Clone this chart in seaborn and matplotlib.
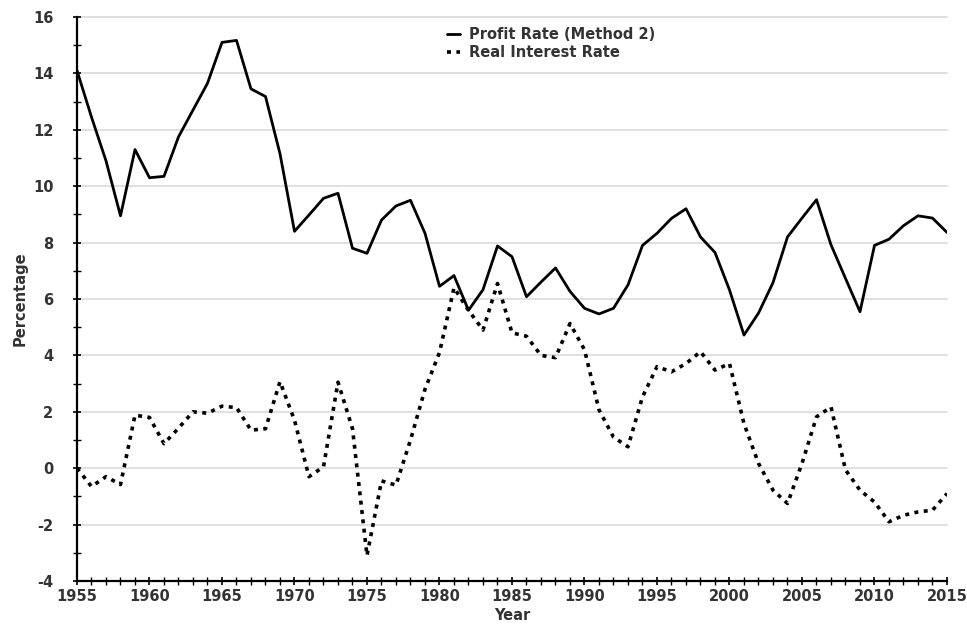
import numpy as np
import pandas as pd
import matplotlib
matplotlib.use("Agg")
import matplotlib.pyplot as plt
import seaborn as sns
from matplotlib.ticker import MultipleLocator

years = list(range(1955, 2016))
profit_rate = [14.1, 12.45, 10.9, 8.95, 11.3, 10.3, 10.35, 11.75, 12.7, 13.65,
               15.1, 15.17, 13.45, 13.18, 11.15, 8.4, 8.98, 9.57, 9.75, 7.8,
               7.62, 8.8, 9.3, 9.5, 8.33, 6.45, 6.83, 5.6, 6.33, 7.88,
               7.5, 6.08, 6.6, 7.1, 6.27, 5.67, 5.47, 5.67, 6.5, 7.9,
               8.33, 8.86, 9.2, 8.2, 7.65, 6.32, 4.72, 5.5, 6.58, 8.2,
               8.87, 9.52, 7.92, 6.73, 5.55, 7.9, 8.12, 8.6, 8.95, 8.87,
               8.36]
real_interest = [0.0, -0.65, -0.3, -0.58, 1.88, 1.8, 0.87, 1.42, 2.0, 1.95,
                 2.2, 2.15, 1.35, 1.4, 3.07, 1.7, -0.3, 0.05, 3.05, 1.4,
                 -3.1, -0.45, -0.6, 1.0, 2.8, 4.1, 6.4, 5.6, 4.9, 6.55,
                 4.8, 4.68, 4.0, 3.92, 5.13, 4.2, 2.07, 1.1, 0.76, 2.53,
                 3.6, 3.42, 3.71, 4.13, 3.48, 3.71, 1.58, 0.17, -0.78, -1.25,
                 0.17, 1.82, 2.17, -0.06, -0.78, -1.2, -1.9, -1.67, -1.55, -1.49,
                 -0.9]
series_names = ["Profit Rate (Method 2)", "Real Interest Rate"]
x_tick_labels = list(range(1955, 2016, 5))
y_tick_values = list(range(-4, 17, 2))

df = pd.DataFrame({
    "Year": years * 2,
    "Percentage": profit_rate + real_interest,
    "Series": [series_names[0]] * len(years) + [series_names[1]] * len(years),
})

sns.set_theme(style="white")
plt.rcParams["font.family"] = ["DejaVu Sans"]
plt.rcParams["axes.unicode_minus"] = False

fig = plt.figure(figsize=(9.67, 6.27), dpi=100)
ax = fig.add_axes([77/967, 1-581/627, (947-77)/967, (581-17)/627])

sns.lineplot(data=df, x="Year", y="Percentage", style="Series",
             dashes={series_names[0]: "", series_names[1]: (1.1, 1.5)},
             color="black", linewidth=2.3, ax=ax, legend=False)
ax.get_lines()[0].set_linewidth(2.0)
ax.get_lines()[1].set_linewidth(2.6)

ax.set_xlim(1955, 2015)
ax.set_ylim(-4, 16)
ax.set_xticks(x_tick_labels)
ax.xaxis.set_minor_locator(MultipleLocator(1))
ax.set_yticks(y_tick_values)
ax.yaxis.set_minor_locator(MultipleLocator(1))

for y in y_tick_values[1:]:
    ax.axhline(y, color="#e0e0e0", linewidth=1.4, zorder=0, clip_on=False)

for s in ["top", "right"]:
    ax.spines[s].set_visible(False)
for s in ["left", "bottom"]:
    ax.spines[s].set_color("black")
    ax.spines[s].set_linewidth(1.6)

ax.tick_params(axis="both", which="major", direction="inout", length=6, width=1.2,
               color="black", labelsize=10.5, labelcolor="#333333")
ax.tick_params(axis="both", which="minor", direction="inout", length=6, width=1.0,
               color="black")
ax.tick_params(axis="y", which="major", pad=14)
ax.tick_params(axis="x", which="major", pad=3)
ax.tick_params(left=True, bottom=True, which="both")
for lab in ax.get_xticklabels() + ax.get_yticklabels():
    lab.set_fontweight("semibold")

ax.set_xlabel("Year", fontsize=10.5, color="#333333", fontweight="semibold", labelpad=3)
ax.set_ylabel("Percentage", fontsize=10.5, color="#333333", fontweight="semibold", labelpad=4)

lines = ax.get_lines()[:2]
leg = ax.legend(lines, series_names, loc="upper left", bbox_to_anchor=(0.41, 1.005),
                frameon=False, handlelength=0.9, handletextpad=0.6, labelspacing=0.2,
                prop={"size": 10.5, "weight": "semibold"})
for t in leg.get_texts():
    t.set_color("#333333")

fig.savefig("out.png", dpi=100, facecolor="white")
